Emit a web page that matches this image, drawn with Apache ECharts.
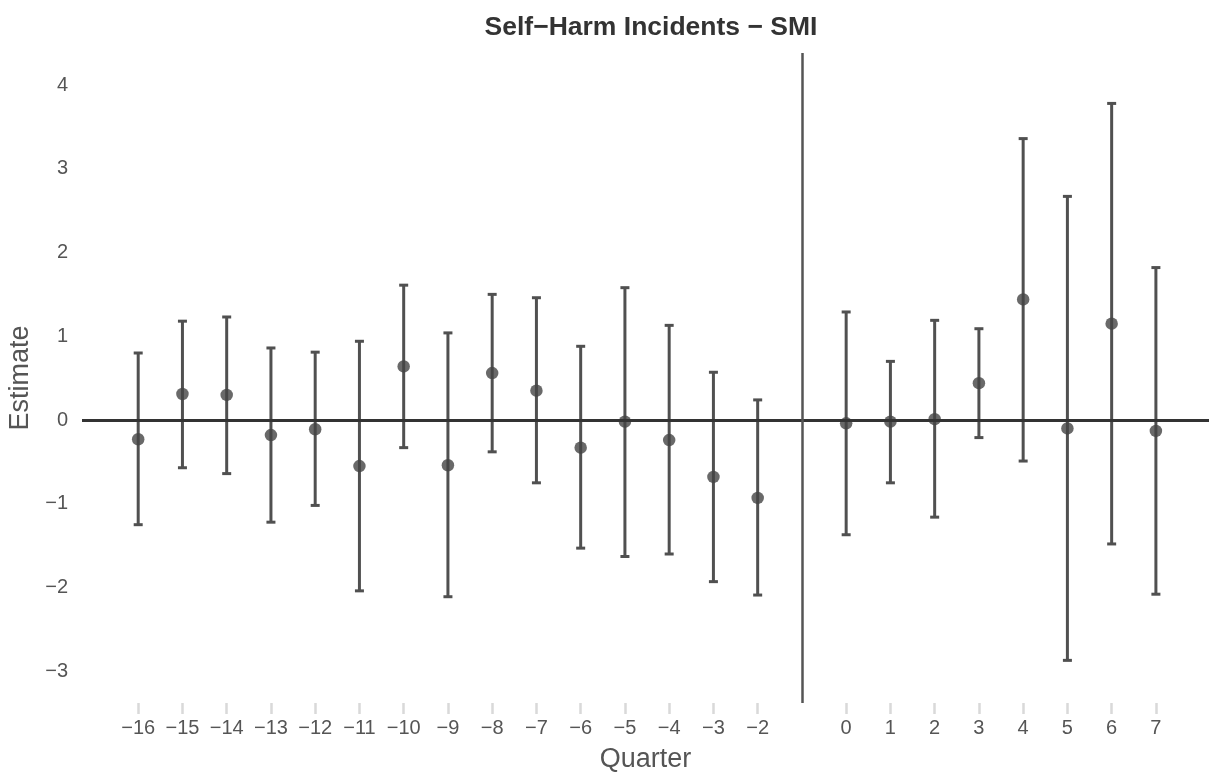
<!DOCTYPE html>
<html>
<head>
<meta charset="utf-8">
<style>
  html, body { margin: 0; padding: 0; background: #ffffff; }
  #chart { width: 1209px; height: 772px; }
</style>
<script src="https://cdn.jsdelivr.net/npm/echarts@6/dist/echarts.min.js"></script>
</head>
<body>
<div id="chart"></div>
<script>
// Event-study coefficients by quarter relative to treatment (quarter -1 is the reference)
const quarters  = [-16, -15, -14, -13, -12, -11, -10, -9, -8, -7, -6, -5, -4, -3, -2, 0, 1, 2, 3, 4, 5, 6, 7];
const estimates = [-0.23, 0.31, 0.30, -0.18, -0.11, -0.55, 0.64, -0.54, 0.56, 0.35, -0.33, -0.02, -0.24, -0.68, -0.93, -0.04, -0.02, 0.01, 0.44, 1.44, -0.10, 1.15, -0.13];
const lower     = [-1.25, -0.57, -0.64, -1.22, -1.02, -2.04, -0.33, -2.11, -0.38, -0.75, -1.53, -1.63, -1.60, -1.93, -2.09, -1.37, -0.75, -1.16, -0.21, -0.49, -2.87, -1.48, -2.08];
const upper     = [0.80, 1.18, 1.23, 0.86, 0.81, 0.94, 1.61, 1.04, 1.50, 1.46, 0.88, 1.58, 1.13, 0.57, 0.24, 1.29, 0.70, 1.19, 1.09, 3.36, 2.67, 3.78, 1.82];
const yTicks    = [-3, -2, -1, 0, 1, 2, 3, 4];
const referenceQuarter = -1;

const minus = v => String(v).replace('-', '\u2212');
const textColor = '#555555';
const fontFamily = 'Liberation Sans, Arial, sans-serif';

const intervals = quarters.map((q, i) => [q, lower[i], upper[i]]);
const points = quarters.map((q, i) => [q, estimates[i]]);

const chart = echarts.init(document.getElementById('chart'), null, { renderer: 'canvas' });

chart.setOption({
  backgroundColor: '#ffffff',
  animation: false,
  title: {
    text: 'Self\u2212Harm Incidents \u2212 SMI',
    left: 646,
    textAlign: 'center',
    top: 9,
    textStyle: { fontFamily, fontSize: 26.5, fontWeight: 'bold', color: '#333333' }
  },
  grid: { left: 82, right: 0, top: 53, bottom: 69, containLabel: false, outerBoundsMode: 'none' },
  xAxis: {
    type: 'value',
    min: -17.27,
    max: 8.2,
    name: 'Quarter',
    nameLocation: 'middle',
    nameGap: 43,
    nameTextStyle: { fontFamily, fontSize: 27, color: textColor },
    axisLine: { show: true, onZero: false, lineStyle: { color: 'rgba(0,0,0,0)' } },
    splitLine: { show: false },
    axisTick: {
      show: true,
      customValues: quarters,
      length: 11,
      lineStyle: { color: '#d9d9d9', width: 2.5 }
    },
    axisLabel: {
      customValues: quarters,
      margin: 15,
      fontFamily,
      fontSize: 20,
      color: textColor,
      formatter: v => minus(v)
    }
  },
  yAxis: {
    type: 'value',
    min: -3.379,
    max: 4.382,
    name: 'Estimate',
    nameLocation: 'middle',
    nameGap: 43,
    nameRotate: 90,
    nameTextStyle: { fontFamily, fontSize: 27, color: textColor },
    axisLine: { show: false },
    axisTick: { show: false, customValues: yTicks },
    splitLine: { show: false },
    axisLabel: {
      customValues: yTicks,
      margin: 14,
      fontFamily,
      fontSize: 20,
      color: textColor,
      formatter: v => minus(v)
    }
  },
  series: [
    {
      type: 'custom',
      name: 'interval',
      data: intervals,
      encode: { x: 0, y: [1, 2] },
      renderItem: (params, api) => {
        const x = api.value(0);
        const lo = api.coord([x, api.value(1)]);
        const hi = api.coord([x, api.value(2)]);
        const cap = 4.5;
        const style = { stroke: '#505050', lineWidth: 3, fill: null };
        return {
          type: 'group',
          children: [
            { type: 'line', shape: { x1: lo[0], y1: lo[1], x2: hi[0], y2: hi[1] }, style },
            { type: 'line', shape: { x1: hi[0] - cap, y1: hi[1], x2: hi[0] + cap, y2: hi[1] }, style },
            { type: 'line', shape: { x1: lo[0] - cap, y1: lo[1], x2: lo[0] + cap, y2: lo[1] }, style }
          ]
        };
      },
      z: 2
    },
    {
      type: 'scatter',
      name: 'estimate',
      data: points,
      symbol: 'circle',
      symbolSize: 12.5,
      itemStyle: { color: '#444444' },
      z: 3,
      markLine: {
        silent: true,
        symbol: 'none',
        label: { show: false },
        data: [
          { yAxis: 0, lineStyle: { color: '#333333', width: 3, type: 'solid' } },
          { xAxis: referenceQuarter, lineStyle: { color: '#555555', width: 2.5, type: 'solid' } }
        ]
      }
    }
  ]
});
</script>
</body>
</html>
